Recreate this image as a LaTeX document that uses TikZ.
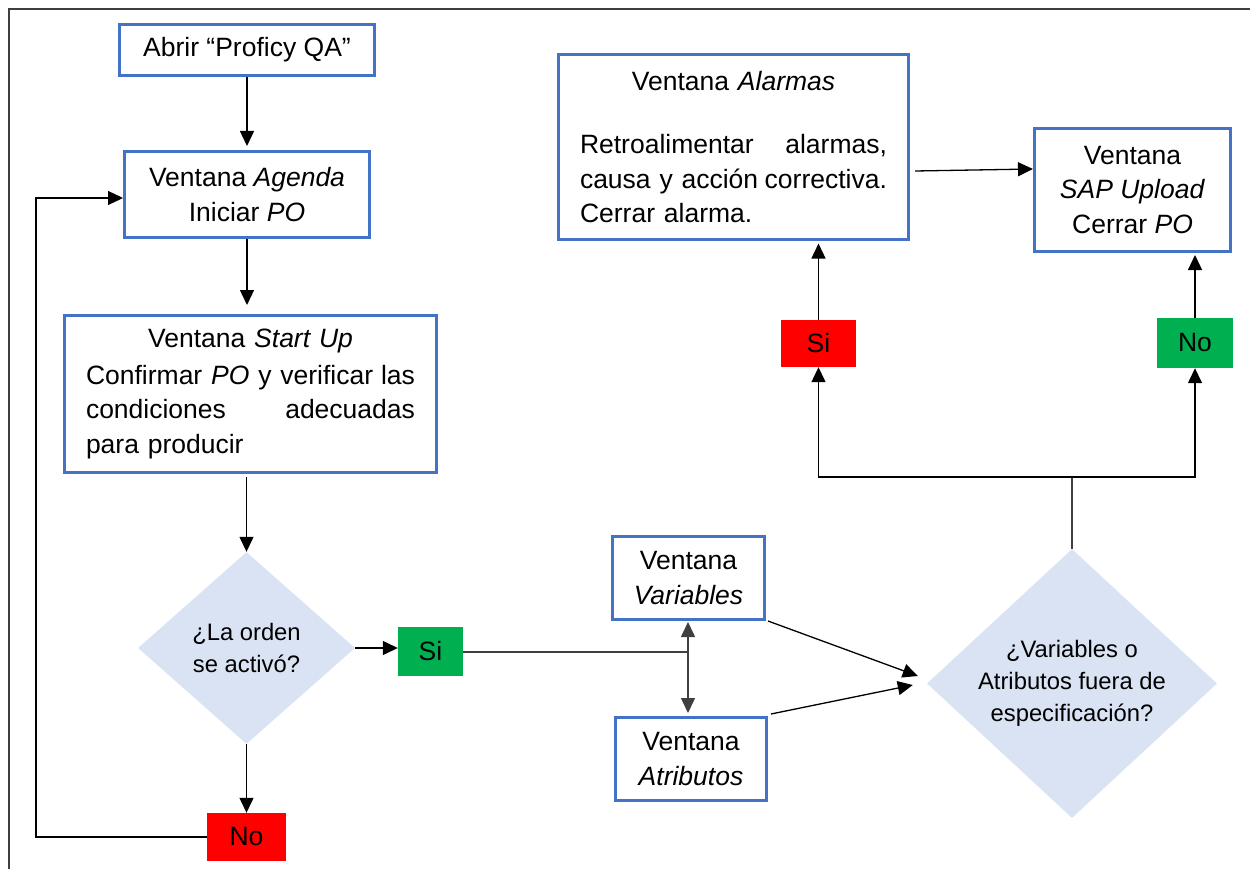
\documentclass[tikz,border=0pt]{standalone}
\usepackage{fontspec}
\setmainfont{Liberation Sans}
\usetikzlibrary{shapes.geometric,arrows.meta}
\definecolor{boxblue}{HTML}{4472C4}
\definecolor{diafill}{HTML}{DAE3F3}
\definecolor{yesgreen}{HTML}{00B050}
\definecolor{nored}{HTML}{FF0000}
\definecolor{wire}{HTML}{3F3F3F}
% a line of given width: words spread to both edges, or set flush left
\newcommand\spreadrow[3]{\leavevmode\hbox to #1{#2\hfill #3}}
\newcommand\leftrow[2]{\leavevmode\hbox to #1{#2\hfill}}

\begin{document}
\begin{tikzpicture}[x=1pt,y=-1pt,
  every node/.style={font=\fontsize{26.5}{34.5}\selectfont, inner sep=0pt},
  win/.style={draw=boxblue, line width=3pt, fill=white, align=center},
  yestag/.style={fill=yesgreen, align=center},
  notag/.style={fill=nored, align=center},
  question/.style={shape=diamond, fill=diafill, draw=none},
  qtext/.style={font=\fontsize{23.8}{32}\selectfont, align=center},
  arrowline/.style={draw=black, line width=1.3pt, -{Triangle[length=15pt,width=14pt]}},
  twoway/.style={draw=wire, line width=1.5pt, {Triangle[length=15pt,width=14pt]}-{Triangle[length=15pt,width=14pt]}},
  plainline/.style={draw=wire, line width=1.5pt},
]
\useasboundingbox (0,0) rectangle (1250,869);

% frame
\draw[plainline] (9,869) -- (9,9) -- (1250,9);

% left column
\node[win, minimum width=255pt, minimum height=51pt] (open) at (247,50) {Abrir “Proficy QA”};
\node[win, minimum width=245pt, minimum height=86pt] (agenda) at (247,194.5)
  {Ventana \textit{Agenda}\\Iniciar \textit{PO}};
\node[win, minimum width=372pt, minimum height=157pt, text width=329pt] (startup) at (250.5,394)
  {Ventana \textit{Start Up}\\[2pt]
   \spreadrow{329pt}{Confirmar \textit{PO} y verificar}{las}\\
   \spreadrow{329pt}{condiciones}{adecuadas}\\
   \leftrow{329pt}{para producir}};
\node[question, minimum width=217pt, minimum height=192pt] (active) at (246.5,648) {};
\node[qtext] at (active) {¿La orden\\se activó?};
\node[yestag, minimum width=65pt, minimum height=49pt] (yes1) at (430.5,651.5) {Si};
\node[notag, minimum width=79pt, minimum height=48pt] (no1) at (246.5,837) {No};
\coordinate (loopx) at (36,837);

% middle column
\node[win, minimum width=152pt, minimum height=83pt] (vars) at (688.5,578) {Ventana\\\textit{Variables}};
\node[win, minimum width=151pt, minimum height=83pt] (attrs) at (691,759) {Ventana\\\textit{Atributos}};
\coordinate (fork) at (688,652);

% right side
\node[question, minimum width=290pt, minimum height=269pt] (spec) at (1072,683.5) {};
\node[qtext] at (spec) {¿Variables o\\Atributos fuera de\\especificación?};
\coordinate (split) at (1072,477);
\node[notag, minimum width=75pt, minimum height=47pt] (yes2) at (818.5,343.5) {Si};
\node[yestag, minimum width=76pt, minimum height=50pt] (no2) at (1195,343) {No};
\node[win, minimum width=350pt, minimum height=184pt, text width=307pt] (alarms) at (733.5,147)
  {Ventana \textit{Alarmas}\\[29pt]
   \spreadrow{307pt}{Retroalimentar}{alarmas,}\\
   \spreadrow{307pt}{causa y acción}{correctiva.}\\
   \leftrow{307pt}{Cerrar alarma.}};
\node[win, minimum width=196pt, minimum height=123pt] (sap) at (1132.5,190)
  {Ventana\\\textit{SAP Upload}\\Cerrar \textit{PO}};

% connectors
\draw[arrowline, shorten >=4pt] (open.south) -- (agenda.north);
\draw[arrowline, shorten >=9pt] (agenda.south) -- (agenda.south |- startup.north);
\draw[arrowline, shorten <=3pt] (active.north |- startup.south) -- (active.north);
\draw[arrowline] (active.east) -- (active.east -| yes1.west);
\draw[arrowline] (active.south) -- (no1.north);
\draw[arrowline] (no1.west) -- (loopx) |- ([yshift=-3.5pt]agenda.west);

\draw[plainline] (yes1.east |- fork) -- (fork);
\draw[twoway, shorten <=1pt, shorten >=3pt] (fork |- vars.south) -- (fork |- attrs.north);
\draw[arrowline] ([xshift=2pt]vars.south east) -- ([xshift=-9pt,yshift=7.5pt]spec.west);
\draw[arrowline] ([xshift=3pt,yshift=2pt]attrs.north east) -- ([xshift=-14pt,yshift=-1.5pt]spec.west);

\draw[plainline] (spec.north) -- (split);
\draw[arrowline] (split) -| (yes2.south);
\draw[arrowline] (split) -| (no2.south);
\draw[arrowline, shorten >=3pt] (yes2.north) -- (yes2.north |- alarms.south);
\draw[arrowline, shorten >=2pt] (no2.north) -- (no2.north |- sap.south);
\draw[arrowline] ([xshift=5pt,yshift=-24pt]alarms.east) -- ([yshift=21pt]sap.west);
\end{tikzpicture}
\end{document}
